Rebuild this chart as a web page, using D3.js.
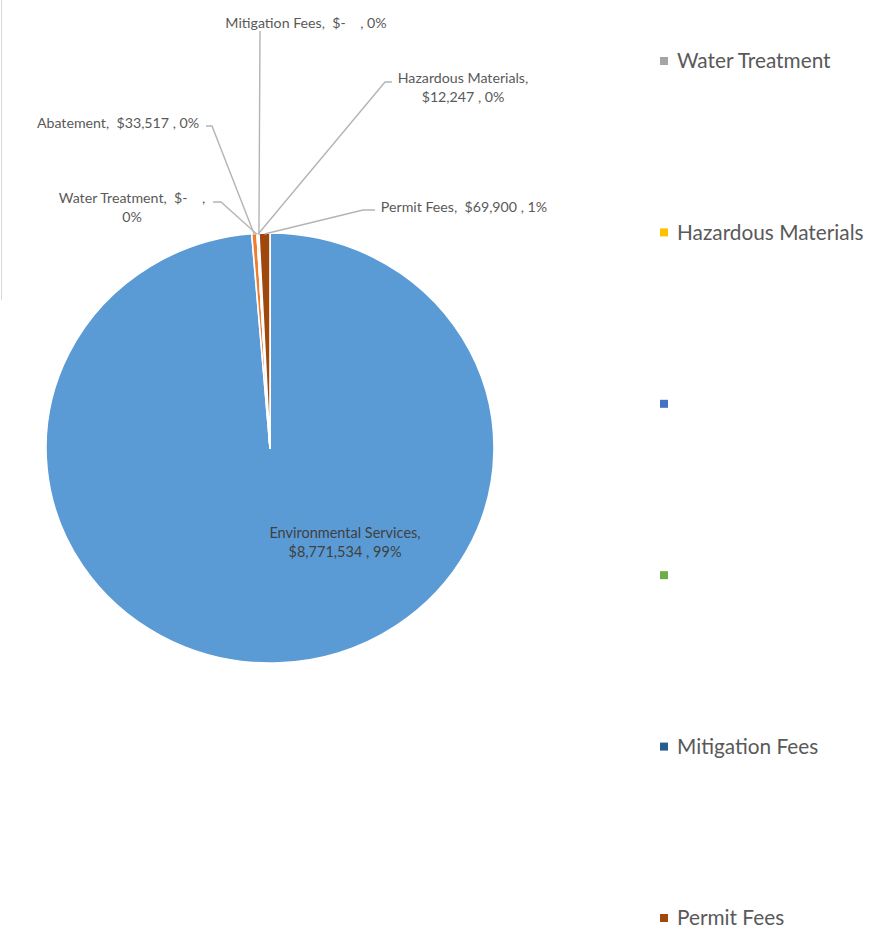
<!DOCTYPE html>
<html>
<head>
<meta charset="utf-8">
<script src="https://cdn.jsdelivr.net/npm/d3@7"></script>
<style>
  html, body { margin: 0; padding: 0; background: #fff; }
  svg { display: block; font-family: Lato, "Open Sans", sans-serif; }
  text { white-space: pre; }
</style>
</head>
<body>
<svg id="chart" width="894" height="942"></svg>
<script>
// ---- data ----
const categories = ["Environmental Services", "Abatement", "Water Treatment", "Hazardous Materials", "", "", "Mitigation Fees", "Permit Fees"];
const values = [8771534, 33517, 0, 12247, 0, 0, 0, 69900];
const colors = ["#5B9BD5", "#ED7D31", "#A5A5A5", "#FFC000", "#4472C4", "#70AD47", "#255E91", "#9E480E"];
const legendIndices = [2, 3, 4, 5, 6, 7];          // entries visible in the legend
const labelledIndices = [0, 1, 2, 3, 6, 7];        // slices with data labels

// ---- layout (not data) ----
const cx = 270, cy = 448, R = 224, yScale = 0.96;
// label placement: text centre, leader start, leader bend
const labelLayout = {
  0: { x: 345, y: 533, lead: null },
  1: { x: 118, y: 123, lead: [[206, 126], [212, 126]] },
  2: { x: 132, y: 198, lead: [[213, 202], [221, 202]] },
  3: { x: 463, y: 78,  lead: [[392, 82], [385, 82]] },
  6: { x: 306, y: 23,  lead: [[260, 31], [260, 31]] },
  7: { x: 464, y: 207, lead: [[375, 210], [363, 210]] }
};

const svg = d3.select("#chart");
const total = d3.sum(values);
const money = v => v === 0 ? "$-   " : "$" + d3.format(",")(v);
const pct = v => Math.round(v / total * 100) + "%";

// faint border at the left edge
svg.append("line").attr("x1", 1.5).attr("x2", 1.5).attr("y1", 0).attr("y2", 300)
  .attr("stroke", "#d9d9d9").attr("stroke-width", 1);

const pie = d3.pie().sort(null).value(d => d)(values);
const arc = d3.arc().innerRadius(0).outerRadius(R);
const edge = d3.arc().innerRadius(R).outerRadius(R);

const g = svg.append("g").attr("transform", `translate(${cx},${cy}) scale(1,${yScale})`);
g.selectAll("path").data(pie).join("path")
  .attr("d", arc)
  .attr("fill", (d, i) => colors[i])
  .attr("stroke", "#fff")
  .attr("stroke-width", 1.6)
  .attr("stroke-linejoin", "round");

// leader lines
const leaderG = svg.append("g");
labelledIndices.forEach(i => {
  const L = labelLayout[i];
  if (!L.lead) return;
  const c = edge.centroid(pie[i]);
  const p = [cx + c[0], cy + c[1] * yScale + 1];
  leaderG.append("path")
    .attr("d", d3.line()([L.lead[0], L.lead[1], p]))
    .attr("fill", "none")
    .attr("stroke", "#B4B4B4")
    .attr("stroke-width", 1.4);
});

// labels
labelledIndices.forEach(i => {
  const L = labelLayout[i];
  let lines;
  const name = categories[i] + ",";
  if (i === 0 || i === 3) lines = [name, money(values[i]) + " , " + pct(values[i])];
  else if (i === 2) lines = [name + "  " + money(values[i]) + " ,", pct(values[i])];
  else lines = [name + "  " + money(values[i]) + " , " + pct(values[i])];
  const t = svg.append("text")
    .attr("text-anchor", "middle")
    .attr("font-size", i === 0 ? 14.5 : 14.2)
    .attr("fill", i === 0 ? "#404040" : "#595959");
  lines.forEach((s, k) => {
    t.append("tspan").attr("x", L.x).attr("y", L.y + k * 19).attr("dy", "0.35em").text(s);
  });
});

// legend
const ly = d3.scalePoint().domain(legendIndices).range([61, 918]);
const lg = svg.append("g").selectAll("g").data(legendIndices).join("g")
  .attr("transform", d => `translate(660,${ly(d)})`);
lg.append("rect").attr("x", 0).attr("y", -4).attr("width", 8).attr("height", 8)
  .attr("fill", d => colors[d]);
lg.append("text").attr("x", 17).attr("y", 0).attr("dy", "0.35em")
  .attr("font-size", 20.8).attr("fill", "#595959")
  .text(d => categories[d]);
</script>
</body>
</html>
